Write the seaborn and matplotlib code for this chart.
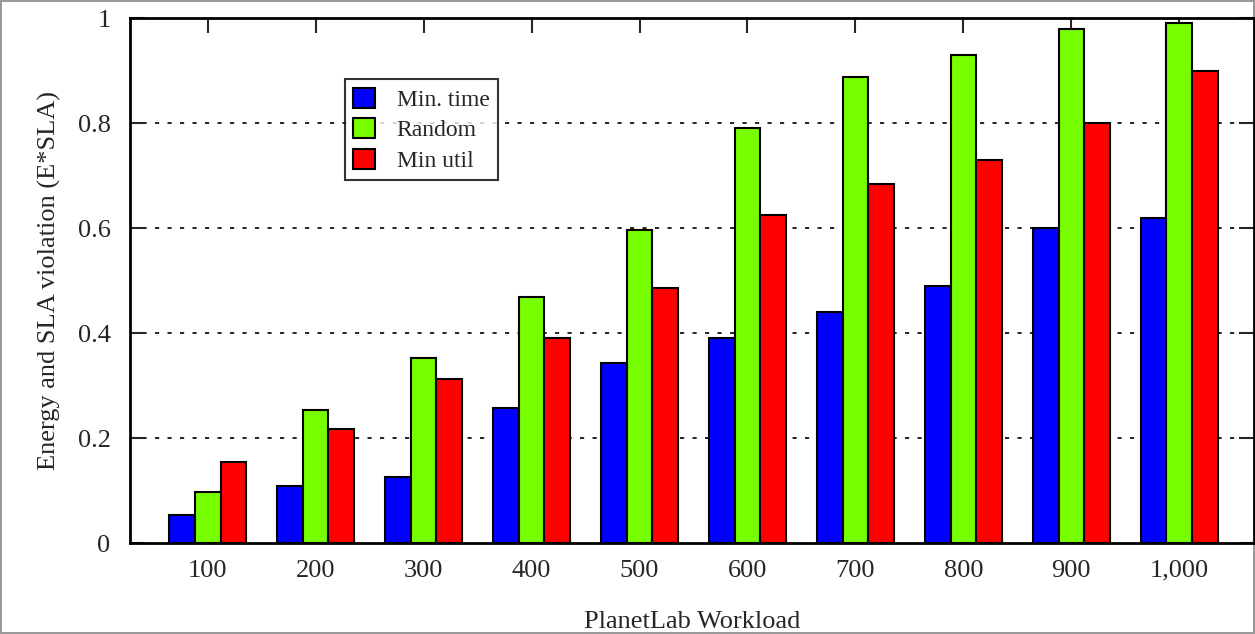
import matplotlib
matplotlib.use("Agg")
import matplotlib.pyplot as plt
import pandas as pd
import seaborn as sns

workloads = ["100", "200", "300", "400", "500", "600", "700", "800", "900", "1,000"]
min_time = [0.053, 0.109, 0.126, 0.257, 0.343, 0.390, 0.440, 0.490, 0.600, 0.619]
random_sel = [0.097, 0.253, 0.352, 0.469, 0.596, 0.790, 0.888, 0.930, 0.979, 0.990]
min_util = [0.154, 0.217, 0.312, 0.390, 0.486, 0.625, 0.684, 0.730, 0.800, 0.900]
series = ["Min. time", "Random", "Min util"]
colors = ["#0000ff", "#77ff00", "#ff0000"]

rows = []
for nombre, valores in zip(series, [min_time, random_sel, min_util]):
    for w, v in zip(workloads, valores):
        rows.append({"workload": w, "serie": nombre, "valor": v})
df = pd.DataFrame(rows)

sns.set_style("white")
plt.rcParams["font.family"] = ["Liberation Serif", "DejaVu Serif"]

fig = plt.figure(figsize=(12.55, 6.34), dpi=100, linewidth=1.5, edgecolor="#999999")
ax = fig.add_axes([0.1036, 0.1435, 0.8954, 0.828])

sns.barplot(
    data=df,
    x="workload",
    y="valor",
    hue="serie",
    order=workloads,
    hue_order=series,
    palette=colors,
    width=0.71,
    edgecolor="black",
    linewidth=1.5,
    saturation=1,
    ax=ax,
)

ax.set_xlim(-0.72, 9.69)
ax.set_ylim(0, 1)
ax.set_yticks([0, 0.2, 0.4, 0.6, 0.8, 1])
ax.set_yticklabels(["0", "0.2", "0.4", "0.6", "0.8", "1"])
for y in [0.2, 0.4, 0.6, 0.8]:
    ax.axhline(y, color="black", linestyle=(0, (2.5, 5)), linewidth=1.2, zorder=0)

ax.tick_params(axis="both", direction="in", length=11, width=1.5,
               labelsize=19, top=True, right=True, bottom=True, left=True)
ax.tick_params(axis="x", pad=12)
ax.tick_params(axis="y", pad=14)
for s in ax.spines.values():
    s.set_linewidth(2)
    s.set_color("black")

ax.set_xlabel("PlanetLab Workload", fontsize=19, labelpad=21)
ax.set_ylabel("Energy and SLA violation (E*SLA)", fontsize=19, labelpad=12)

leg = ax.legend(
    loc="upper left",
    bbox_to_anchor=(0.191, 0.883),
    fontsize=17,
    frameon=True,
    fancybox=False,
    edgecolor="black",
    handlelength=0.95,
    handleheight=0.95,
    handletextpad=0.9,
    borderpad=0.35,
    labelspacing=0.3,
    borderaxespad=0,
)
leg.get_frame().set_linewidth(1.5)
leg.set_title(None)

fig.savefig("out.png", dpi=100)
